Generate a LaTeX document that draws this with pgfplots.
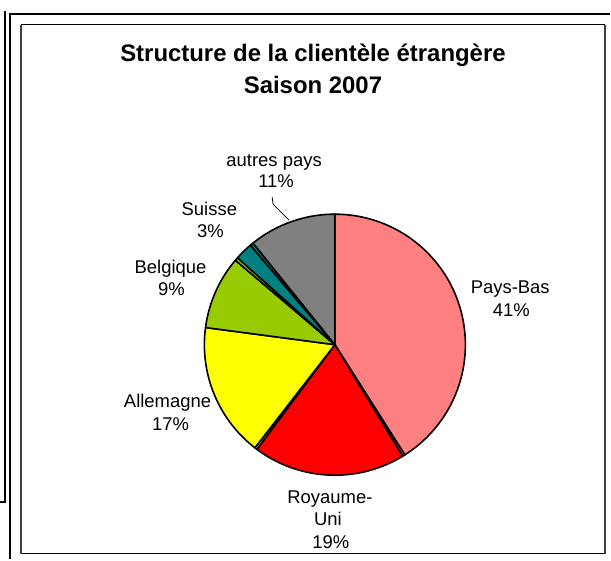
\documentclass[border=0pt]{standalone}
\usepackage{pgfplots}
\pgfplotsset{compat=1.18}
\usepackage{fontspec}
\setmainfont{Liberation Sans}
\definecolor{cPB}{HTML}{FF8080}
\definecolor{cRU}{HTML}{FF0000}
\definecolor{cAL}{HTML}{FFFF00}
\definecolor{cBE}{HTML}{99CC00}
\definecolor{cSU}{HTML}{008080}
\definecolor{cAU}{HTML}{808080}
\definecolor{frameg}{HTML}{404040}
% slice: cumulative start (percent), value (percent), colour
\newcommand\slice[3]{%
  \pgfmathsetmacro\sa{90-3.6*(#1+#2)}%
  \pgfmathsetmacro\sb{90-3.6*(#1)}%
  \edef\temp{\noexpand\addplot[fill=#3, draw=black, line width=1.6pt, line join=round,
    domain=\sa:\sb, samples=90, variable=\noexpand\t]
    ({335+131*cos(\noexpand\t)},{215+131*sin(\noexpand\t)}) -- (335,215) -- cycle;}%
  \temp}
\newcommand\lab{\fontsize{18.5}{22}\selectfont}
\begin{document}
\begin{tikzpicture}
\fill[white] (0,0) rectangle (611pt,561pt);
\begin{axis}[width=611pt, height=561pt, scale only axis, xmin=0, xmax=611, ymin=0, ymax=561,
  hide axis, clip=false]
% frames
\draw[line width=2.3pt, line cap=rect] (3.8,548.5) -- (3.8,57) -- (0,57);
\draw[line width=2.3pt] (9.2,0) -- (9.2,547.2) -- (611,547.2);
\draw[line width=1.6pt, black] (19.5,536.3) -- (606.6,536.3);
\draw[line width=1.6pt, black] (19.5,5.3) -- (606.6,5.3);
\draw[line width=2pt, frameg] (20.3,536.3) -- (20.3,5.3);
\draw[line width=2pt, frameg] (605.8,536.3) -- (605.8,5.3);
% pie (percent values)
\slice{0}{41.0}{cPB}
\slice{41.0}{0.3}{cPB}
\slice{41.3}{18.9}{cRU}
\slice{60.2}{0.3}{cAL}
\slice{60.5}{16.6}{cAL}
\slice{77.1}{9.1}{cBE}
\slice{86.2}{0.4}{cBE}
\slice{86.6}{2.2}{cSU}
\slice{88.8}{0.4}{cSU}
\slice{89.2}{10.8}{cAU}
% leader line
\addplot[black, line width=0.8pt] coordinates {(272,363) (273,356) (289,340)};
% title
\node[anchor=base, font=\bfseries\fontsize{24}{28}\selectfont] at (313,499) {Structure de la clientèle étrangère};
\node[anchor=base, font=\bfseries\fontsize{24}{28}\selectfont] at (313,467) {Saison 2007};
% labels
\node[anchor=base, font=\lab] at (274,394.3) {autres pays};
\node[anchor=base, font=\lab] at (276,372.7) {11\%};
\node[anchor=base, font=\lab] at (209,345) {Suisse};
\node[anchor=base, font=\lab] at (210,322.3) {3\%};
\node[anchor=base, font=\lab] at (170,286) {Belgique};
\node[anchor=base, font=\lab] at (171,264.3) {9\%};
\node[anchor=base, font=\lab] at (167,152) {Allemagne};
\node[anchor=base, font=\lab] at (170,129.3) {17\%};
\node[anchor=base, font=\lab] at (511,266) {Pays-Bas};
\node[anchor=base, font=\lab] at (512,243.7) {41\%};
\node[anchor=base, font=\lab] at (330,56) {Royaume-};
\node[anchor=base, font=\lab] at (328,33.7) {Uni};
\node[anchor=base, font=\lab] at (331,10) {19\%};
\end{axis}
\end{tikzpicture}
\end{document}
